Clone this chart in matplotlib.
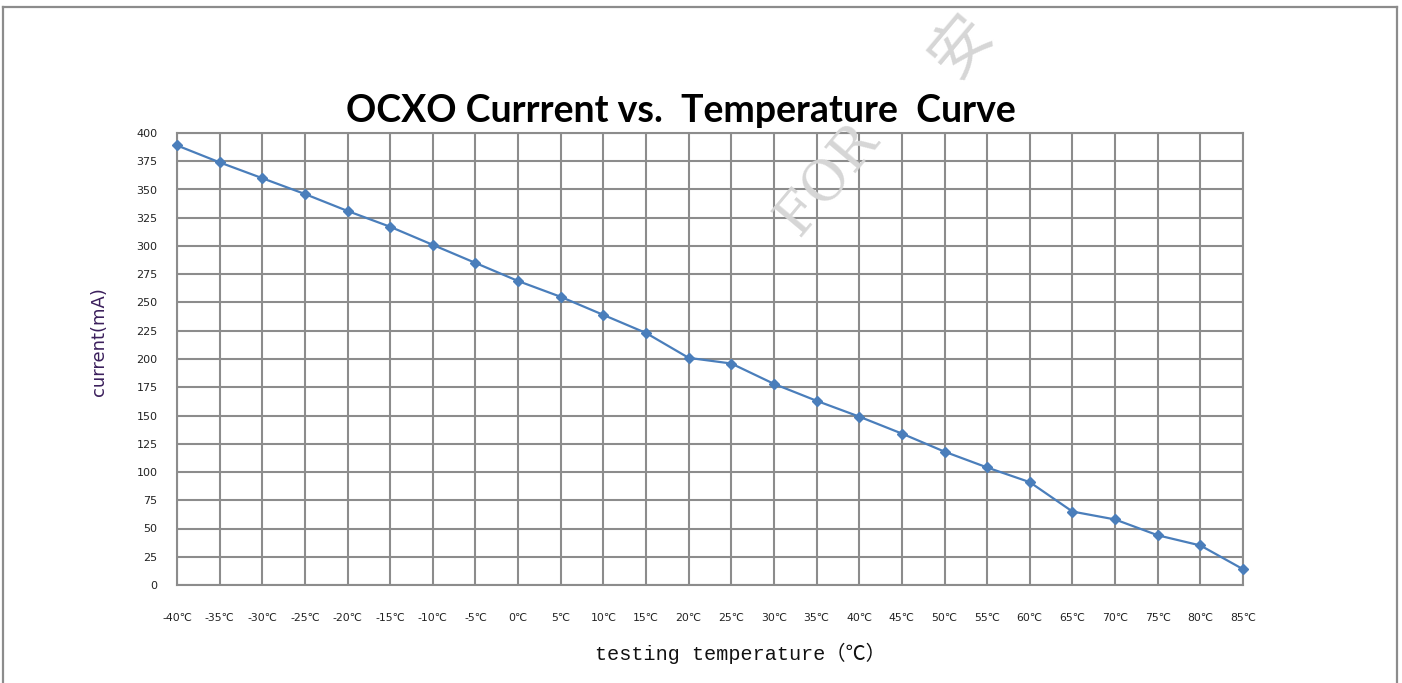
import matplotlib
matplotlib.use("Agg")
import matplotlib.pyplot as plt

# ============================
# DATA
# ============================
temps = [-40, -35, -30, -25, -20, -15, -10, -5, 0, 5, 10, 15, 20,
         25, 30, 35, 40, 45, 50, 55, 60, 65, 70, 75, 80, 85]
current_ma = [389, 374, 360, 346, 331, 317, 301, 285, 269, 255, 239, 223, 201,
              196, 178, 163, 149, 134, 118, 104, 91, 65, 58, 44, 35, 14]
temp_labels = [f"{t}℃" for t in temps]
y_ticks = list(range(0, 401, 25))

GRID = "#8C8C8C"
LINE = "#4A7EBB"
W, H = 1402, 683

fig = plt.figure(figsize=(14.02, 6.83), dpi=100)
fig.patch.set_facecolor("white")

# outer frame (top, left, right only)
frame_kw = dict(color="#8C8C8C", lw=1.6, transform=fig.transFigure)
fig.add_artist(plt.Line2D([3 / W, 1397 / W], [1 - 7 / H, 1 - 7 / H], **frame_kw))
fig.add_artist(plt.Line2D([3 / W, 3 / W], [0, 1 - 7 / H], **frame_kw))
fig.add_artist(plt.Line2D([1397 / W, 1397 / W], [0, 1 - 7 / H], **frame_kw))

ax = fig.add_axes([177 / W, 1 - 585 / H, (1243 - 177) / W, (585 - 133) / H])

x_pos = list(range(len(temps)))
ax.plot(x_pos, current_ma, color=LINE, lw=1.6, marker="D", ms=5.5,
        markerfacecolor=LINE, markeredgecolor=LINE, zorder=3, clip_on=False)

ax.set_xlim(0, len(temps) - 1)
ax.set_ylim(0, 400)
ax.set_xticks(x_pos)
ax.set_xticklabels(temp_labels, family=["DejaVu Sans", "Noto Sans CJK SC"])
ax.set_yticks(y_ticks)

ax.grid(True, color=GRID, lw=1.5)
ax.set_axisbelow(True)
for s in ax.spines.values():
    s.set_color(GRID)
    s.set_linewidth(1.5)

ax.tick_params(axis="both", length=0, labelsize=8, colors="#222222")
ax.tick_params(axis="y", pad=14)
ax.tick_params(axis="x", pad=20)
for lbl in ax.get_xticklabels():
    lbl.set_fontsize(7.8)

fig.text(681 / W, 1 - 111 / H, "OCXO Currrent vs.  Temperature  Curve", family="Lato",
         fontweight="bold", fontsize=27, color="black", ha="center", va="center")
ax.set_ylabel("current(mA)", fontsize=13, color="#3B1F5C")
ax.yaxis.set_label_coords((108 - 177) / (1243 - 177), (585 - 342) / (585 - 133))
ax.set_xlabel("testing temperature（℃）", family=["Liberation Mono", "Noto Sans CJK SC"],
              fontsize=14.5, color="#111111")
ax.xaxis.set_label_coords((740 - 177) / (1243 - 177), -(643 - 585) / (585 - 133))

# faint watermark
fig.text(828 / W, 1 - 180 / H, "FOR", family="DejaVu Serif", fontsize=40,
         color="#D6D6D6", rotation=50, ha="center", va="center", zorder=5)
fig.text(962 / W, 1 - 45 / H, "安", family="Noto Sans CJK SC", fontsize=44,
         color="#D6D6D6", rotation=50, ha="center", va="center", zorder=5)

fig.savefig("out.png", dpi=100)
